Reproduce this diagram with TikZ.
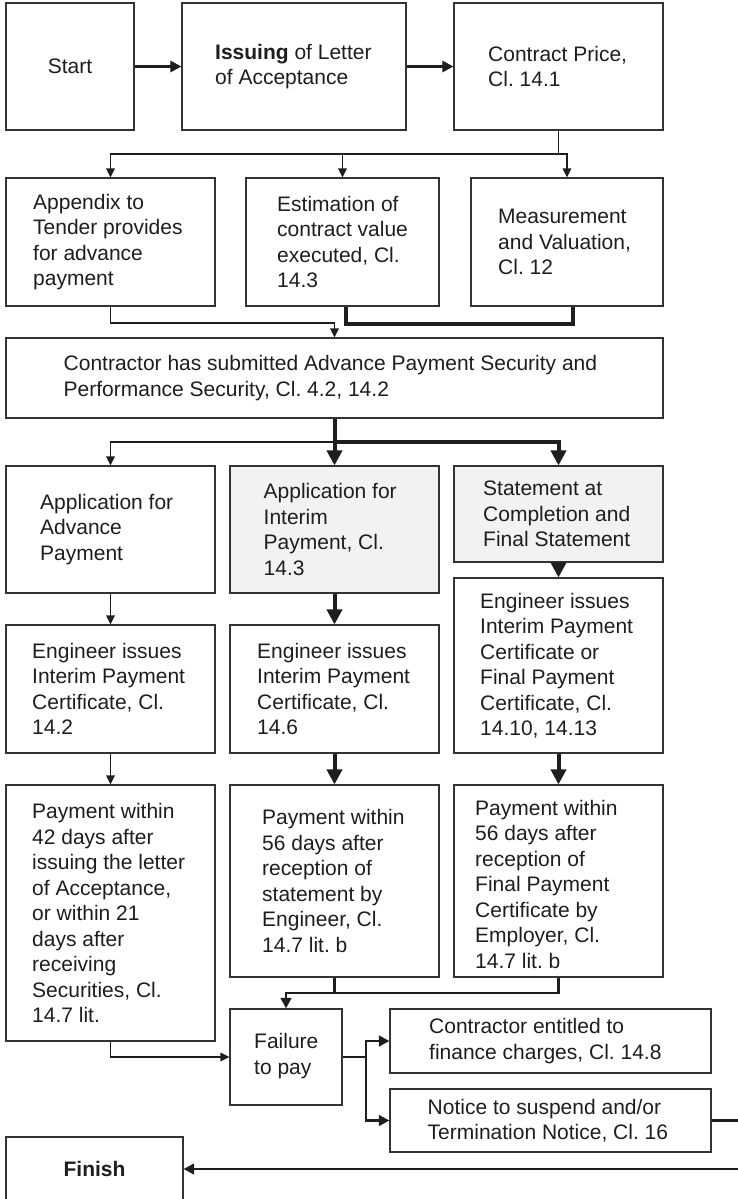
\documentclass[tikz,border=0pt]{standalone}
\usepackage{fontspec}
\setmainfont{Liberation Sans}
\usetikzlibrary{arrows.meta}
\definecolor{inkc}{HTML}{1E1E1E}
\definecolor{boxc}{HTML}{333333}
\definecolor{grayf}{HTML}{F2F2F2}
\frenchspacing
\tikzset{
  box/.style={draw=boxc, line width=1.1pt, fill=white, inner sep=0pt},
  gbox/.style={box, fill=grayf},
  txt/.style={anchor=west, align=left, inner sep=0pt, text=inkc,
    font=\fontsize{21}{25.5}\selectfont\frenchspacing},
  ctxt/.style={txt, anchor=center, align=center},
  thinl/.style={draw=inkc, line width=1.3pt},
  thinarr/.style={thinl, -{Triangle[length=9pt,width=8.5pt]}},
  midl/.style={draw=inkc, line width=2.7pt},
  midarr/.style={midl, -{Triangle[length=10.5pt,width=10.5pt]}},
  topl/.style={draw=inkc, line width=3pt, -{Triangle[length=11pt,width=11pt]}},
  thickl/.style={draw=inkc, line width=4pt},
  thickarr/.style={thickl, -{Triangle[length=15pt,width=15pt]}},
}
\begin{document}
\begin{tikzpicture}[x=1pt,y=-1pt]
\useasboundingbox (0,0) rectangle (738,1199);
% ---------- boxes ----------
\node[box, minimum width=128, minimum height=127] (start) at (70,66.5) {};
\node[box, minimum width=224, minimum height=127] (issuing) at (294,66.5) {};
\node[box, minimum width=209, minimum height=127] (contract) at (558.5,66.5) {};
\node[box, minimum width=209, minimum height=128] (appendix) at (110.5,242) {};
\node[box, minimum width=193, minimum height=128] (estimation) at (342.5,242) {};
\node[box, minimum width=192, minimum height=128] (measure) at (567,242) {};
\node[box, minimum width=657, minimum height=80] (security) at (334.5,378) {};
\node[box, minimum width=209, minimum height=127] (appadv) at (110.5,529.5) {};
\node[gbox, minimum width=209, minimum height=127] (appint) at (334.5,529.5) {};
\node[gbox, minimum width=209, minimum height=96] (statement) at (558.5,514) {};
\node[box, minimum width=209, minimum height=128] (engadv) at (110.5,689) {};
\node[box, minimum width=209, minimum height=128] (engint) at (334.5,689) {};
\node[box, minimum width=209, minimum height=175] (engfin) at (558.5,665.5) {};
\node[box, minimum width=209, minimum height=256] (payadv) at (110.5,913) {};
\node[box, minimum width=209, minimum height=192] (payint) at (334.5,881) {};
\node[box, minimum width=209, minimum height=192] (payfin) at (558.5,881) {};
\node[box, minimum width=112, minimum height=96] (failure) at (286,1057) {};
\node[box, minimum width=321, minimum height=64] (entitled) at (550.5,1041) {};
\node[box, minimum width=321, minimum height=63] (notice) at (550.5,1120.5) {};
\node[box, minimum width=177, minimum height=64] (finish) at (94.5,1169) {};
% ---------- texts ----------
\node[ctxt] (t-start) at (70,66.5) {Start};
\node[txt] (t-issuing) at (215,66.5) {\textbf{Issuing} of Letter\\of Acceptance};
\node[txt] (t-contract) at (488,66.5) {Contract Price,\\Cl. 14.1};
\node[txt] (t-appendix) at (33,242) {Appendix to\\Tender provides\\for advance\\payment};
\node[txt] (t-estimation) at (277,242) {Estimation of\\contract value\\executed, Cl.\\14.3};
\node[txt] (t-measure) at (498,242) {Measurement\\and Valuation,\\Cl. 12};
\node[txt] (t-security) at (63.5,378) {Contractor has submitted Advance Payment Security and\\Performance Security, Cl. 4.2, 14.2};
\node[txt] (t-appadv) at (40,529.5) {Application for\\Advance\\Payment};
\node[txt] (t-appint) at (263.5,529.5) {Application for\\Interim\\Payment, Cl.\\14.3};
\node[txt] (t-statement) at (483,514) {Statement at\\Completion and\\Final Statement};
\node[txt] (t-engadv) at (32,689) {Engineer issues\\Interim Payment\\Certificate, Cl.\\14.2};
\node[txt] (t-engint) at (257,689) {Engineer issues\\Interim Payment\\Certificate, Cl.\\14.6};
\node[txt] (t-engfin) at (480,665.5) {Engineer issues\\Interim Payment\\Certificate or\\Final Payment\\Certificate, Cl.\\14.10, 14.13};
\node[txt] (t-payadv) at (32,913) {Payment within\\42 days after\\issuing the letter\\of Acceptance,\\or within 21\\days after\\receiving\\Securities, Cl.\\14.7 lit.};
\node[txt] (t-payint) at (262,881) {Payment within\\56 days after\\reception of\\statement by\\Engineer, Cl.\\14.7 lit. b};
\node[txt] (t-payfin) at (475,884) {Payment within\\56 days after\\reception of\\Final Payment\\Certificate by\\Employer, Cl.\\14.7 lit. b};
\node[txt] (t-failure) at (254,1056) {Failure\\to pay};
\node[txt] (t-entitled) at (429,1041) {Contractor entitled to\\finance charges, Cl. 14.8};
\node[txt] (t-notice) at (427.5,1120.5) {Notice to suspend and/or\\Termination Notice, Cl. 16};
\node[ctxt] (t-finish) at (94.5,1169) {\textbf{Finish}};
% ---------- junctions ----------
\coordinate (j1) at (558.5,154);
\coordinate (j2) at (334.5,323);
\coordinate (j3) at (346,324);
\coordinate (j4) at (334.5,442);
\coordinate (j5) at (286,993);
\coordinate (j6) at (366,1057);
\coordinate (j7) at (745,1120.5);
\coordinate (j8) at (745,1169);
% ---------- connectors ----------
\draw[topl] (start.east) -- (issuing.west);
\draw[topl] (issuing.east) -- (contract.west);
\draw[thinl] (contract.south) -- (j1);
\draw[thinarr] (j1) -| (appendix.north);
\draw[thinarr] (j1) -| (estimation.north);
\draw[thinarr] (j1) -| (measure.north);
\draw[thinarr] (appendix.south) |- (j2) -- (security.north);
\draw[thickl] ([xshift=3.5pt]estimation.south) |- (j3) -| ([xshift=6pt]measure.south);
\draw[thickarr] (security.south) -- (appint.north);
\draw[thinarr] (j4) -| (appadv.north);
\draw[thickarr] (j4) -| (statement.north);
\draw[thinarr] (appadv.south) -- (engadv.north);
\draw[thickarr] (appint.south) -- (engint.north);
\draw[thickarr] (statement.south) -- (engfin.north);
\draw[thinarr] (engadv.south) -- (payadv.north);
\draw[thickarr] (engint.south) -- (payint.north);
\draw[thickarr] (engfin.south) -- (payfin.north);
\draw[midl] (payint.south) -- (payint.south |- j5);
\draw[midarr] (payfin.south) |- (j5) -- (failure.north);
\draw[thinarr] (payadv.south) |- (failure.west);
\draw[midl] (failure.east) -- (j6);
\draw[midarr] (j6) |- (entitled.west);
\draw[midarr] (j6) |- (notice.west);
\draw[midarr] (notice.east) -- (j7) -- (j8) -- (finish.east);
\end{tikzpicture}
\end{document}
